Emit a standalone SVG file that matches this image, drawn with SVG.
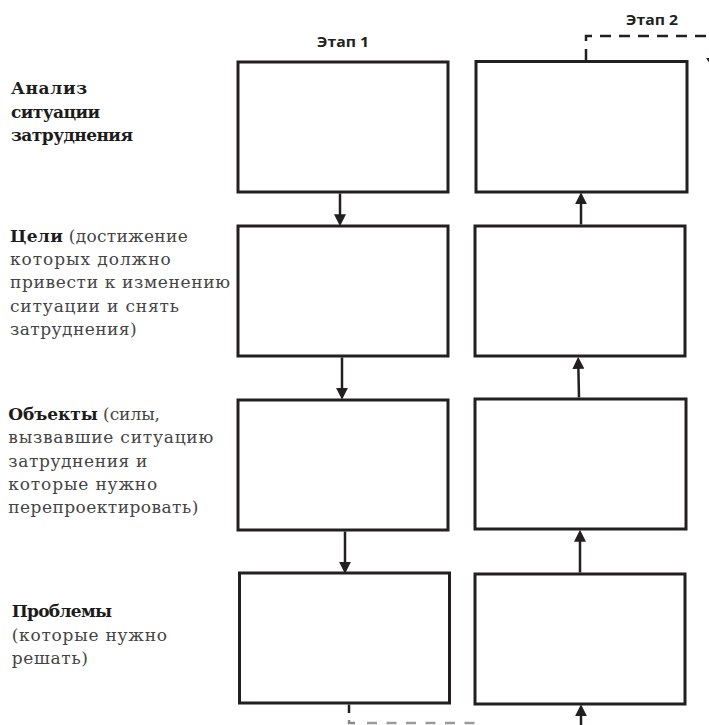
<svg xmlns="http://www.w3.org/2000/svg" width="709" height="725" viewBox="0 0 709 725">
<style>
.box{fill:#fff;stroke:#231f20;stroke-width:3}
.lbl{font-family:"DejaVu Serif","Liberation Serif",serif;font-size:17px;fill:#444}
.b{font-weight:bold;fill:#1c1c1c}
.stage{font-family:"Open Sans","Liberation Sans",sans-serif;font-size:14px;font-weight:bold;fill:#231f20}
.arr{stroke:#231f20;stroke-width:2.5;fill:none;marker-end:url(#ah)}
.dash{stroke:#231f20;stroke-width:2.5;fill:none;stroke-dasharray:11 8}
</style>
<defs>
<marker id="ah" markerUnits="userSpaceOnUse" markerWidth="12" markerHeight="12" viewBox="0 0 10 10" refX="4" refY="5" orient="auto">
<path d="M0,0 L10,5 L0,10 z" fill="#231f20"/>
</marker>
</defs>

<g id="stage-labels">
<text class="stage" x="317" y="47" textLength="52" lengthAdjust="spacingAndGlyphs">Этап 1</text>
<text class="stage" x="626" y="25" textLength="52" lengthAdjust="spacingAndGlyphs">Этап 2</text>
</g>

<g id="label-analysis">
<text class="lbl b" x="11" y="94" textLength="76">Анализ</text>
<text class="lbl b" x="11" y="117.5" textLength="89">ситуации</text>
<text class="lbl b" x="11" y="141" textLength="122">затруднения</text>
</g>
<g id="label-goals">
<text class="lbl" x="10" y="241.7" textLength="177.7"><tspan class="b">Цели</tspan> (достижение</text>
<text class="lbl" x="10" y="265" textLength="160.7">которых должно</text>
<text class="lbl" x="10" y="288.3" textLength="220">привести к изменению</text>
<text class="lbl" x="10" y="311.6" textLength="169">ситуации и снять</text>
<text class="lbl" x="10" y="335" textLength="126.7">затруднения)</text>
</g>
<g id="label-objects">
<text class="lbl" x="8.3" y="420" textLength="151.7"><tspan class="b">Объекты</tspan> (силы,</text>
<text class="lbl" x="8.3" y="443.4" textLength="205">вызвавшие ситуацию</text>
<text class="lbl" x="8.3" y="466.7" textLength="139">затруднения и</text>
<text class="lbl" x="8.3" y="490" textLength="149">которые нужно</text>
<text class="lbl" x="8.3" y="513.3" textLength="190">перепроектировать)</text>
</g>
<g id="label-problems">
<text class="lbl b" x="11.7" y="617.3" textLength="100.3">Проблемы</text>
<text class="lbl" x="11.7" y="640.7" textLength="155.3">(которые нужно</text>
<text class="lbl" x="11.7" y="664" textLength="76.3">решать)</text>
</g>

<g id="s1-analysis"><rect class="box" x="238" y="62" width="210" height="130"/></g>
<g id="s1-goals"><rect class="box" x="238" y="226" width="210" height="130"/></g>
<g id="s1-objects"><rect class="box" x="238" y="400" width="210" height="130"/></g>
<g id="s1-problems"><rect class="box" x="239.5" y="573" width="210" height="130"/></g>

<g id="s2-analysis"><rect class="box" x="476" y="61.5" width="211" height="130.5"/></g>
<g id="s2-goals"><rect class="box" x="475" y="226" width="210" height="130"/></g>
<g id="s2-objects"><rect class="box" x="475" y="399" width="211" height="130"/></g>
<g id="s2-problems"><rect class="box" x="475" y="574" width="210" height="130"/></g>

<g id="connectors">
<path class="arr" d="M340,193.5 L340,219"/>
<path class="arr" d="M342,357.5 L342,392.5"/>
<path class="arr" d="M345,531.5 L345,566.5"/>
<path class="arr" d="M581,224.5 L581,199.5"/>
<path class="arr" d="M579,397.5 L578.3,364"/>
<path class="arr" d="M580,572.5 L580,537"/>
<path class="arr" d="M581,726 L581,711.5"/>
<path class="dash" d="M586,60 L586,36 L712,36"/>
<polygon points="706,58 718,58 712,67" fill="#231f20"/>
<line x1="349" y1="704.5" x2="349" y2="713" stroke="#231f20" stroke-width="2.5"/>
<path d="M349,720 L349,723 L355,723" stroke="#8a8a8a" stroke-width="2.5" fill="none"/>
<line x1="367" y1="723" x2="475" y2="723" stroke="#9a9a9a" stroke-width="2.5" stroke-dasharray="10 9.5"/>
</g>
</svg>
